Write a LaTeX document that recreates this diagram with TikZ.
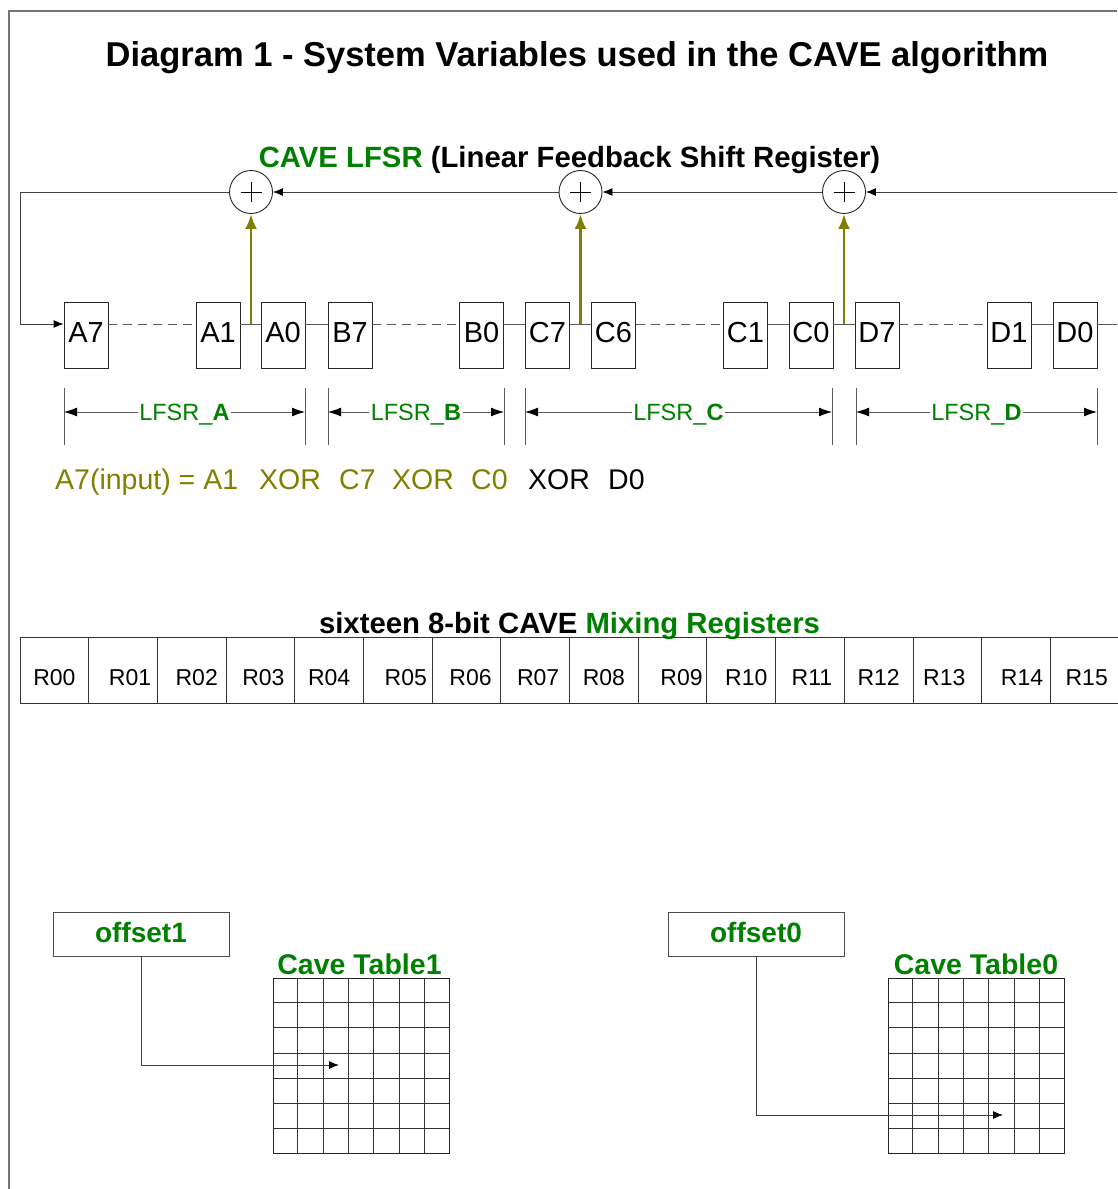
\documentclass[tikz,border=0pt]{standalone}
\usepackage{fontspec}
\setmainfont{Liberation Sans}
\usetikzlibrary{arrows.meta,calc}
\definecolor{cgreen}{RGB}{0,128,0}
\definecolor{colive}{RGB}{128,128,0}
\definecolor{cline}{RGB}{90,90,90}
\begin{document}
\begin{tikzpicture}[x=1pt,y=-1pt,
  frame/.style={draw=black!55, line width=1.4pt},
  bitbox/.style={draw=black!85, line width=0.9pt, minimum width=44pt, minimum height=66pt, inner sep=0pt, text height=21pt, text depth=7pt, font=\fontsize{29}{30}\selectfont},
  xorc/.style={draw=black!85, line width=0.9pt, circle, minimum size=43pt, inner sep=0pt},
  arr/.style={draw=black!75, line width=0.9pt, -{Latex[length=10pt,width=8pt,color=black]}},
  chain/.style={draw=cline, line width=1pt},
  dchain/.style={chain, dash pattern=on 9pt off 6pt},
  tapa/.style={draw=colive, line width=2.8pt, -{Latex[length=15pt,width=12pt]}},
  dimtick/.style={draw=cline, line width=0.9pt},
  dimarr/.style={draw=cline, line width=0.9pt, {Latex[length=13pt,width=9pt,color=black]}-{Latex[length=13pt,width=9pt,color=black]}},
  dimlab/.style={font=\fontsize{23.5}{24}\selectfont, text=cgreen, fill=white, inner sep=1.5pt, text height=16.5pt, text depth=0pt},
  eqtxt/.style={font=\fontsize{28.5}{29}\selectfont, inner sep=0pt, anchor=base west},
  regcell/.style={draw=black!80, line width=0.9pt, minimum width=68.69pt, minimum height=66pt, inner sep=0pt},
  reglab/.style={font=\fontsize{23}{24}\selectfont, inner sep=0pt, anchor=base},
  offbox/.style={draw=black!70, line width=0.9pt, minimum width=176pt, minimum height=44pt, inner sep=0pt, text height=20pt, text depth=4pt, font=\fontsize{28}{29}\selectfont\bfseries, text=cgreen},
  tbl/.style={draw=black!85, line width=0.9pt, minimum width=176pt, minimum height=175pt, inner sep=0pt},
  gridl/.style={draw=black!80, line width=0.8pt},
  tbllab/.style={font=\fontsize{28.5}{29}\selectfont\bfseries, text=cgreen, inner sep=0pt, anchor=base},
  heading/.style={font=\fontsize{29.3}{30}\selectfont\bfseries, inner sep=0pt, anchor=base}
]
\useasboundingbox (0,0) rectangle (1117,1189);
% frame
\coordinate (fTL) at (9,11);
\coordinate (fBL) at (9,1189);
\coordinate (fTR) at (1117,11);
\draw[frame] (fBL) -- (fTL) -- (fTR);

% title
\node[font=\fontsize{34.5}{35}\selectfont\bfseries, inner sep=0pt, anchor=base] (title) at (577,66) {Diagram 1 - System Variables used in the CAVE algorithm};
\node[heading] (lfsrtitle) at (569.5,167) {\textcolor{cgreen}{CAVE LFSR} (Linear Feedback Shift Register)};

% register boxes
\foreach \n/\x in {A7/86, A1/218, A0/283, B7/350, B0/481.5, C7/547.5, C6/613.5, C1/745.5, C0/811, D7/877, D1/1009, D0/1075}
  \node[bitbox] (\n) at (\x,335) {\n};

% xor circles
\node[xorc] (x1) at (251,192) {};
\node[xorc] (x2) at (580.5,192) {};
\node[xorc] (x3) at (844,192) {};
\foreach \c in {x1,x2,x3}{
  \draw[line width=0.8pt] ([xshift=-10.5pt]\c.center) -- ([xshift=10.5pt]\c.center);
  \draw[line width=0.8pt] ([yshift=-10pt]\c.center) -- ([yshift=10pt]\c.center);
}

% chain line
\draw[dchain] ([yshift=11pt]A7.east) -- ([yshift=11pt]A1.west);
\draw[chain] ([yshift=11pt]A1.east) -- ([yshift=11pt]A0.west);
\draw[chain] ([yshift=11pt]A0.east) -- ([yshift=11pt]B7.west);
\draw[dchain] ([yshift=11pt]B7.east) -- ([yshift=11pt]B0.west);
\draw[chain] ([yshift=11pt]B0.east) -- ([yshift=11pt]C7.west);
\draw[chain] ([yshift=11pt]C7.east) -- ([yshift=11pt]C6.west);
\draw[dchain] ([yshift=11pt]C6.east) -- ([yshift=11pt]C1.west);
\draw[chain] ([yshift=11pt]C1.east) -- ([yshift=11pt]C0.west);
\draw[chain] ([yshift=11pt]C0.east) -- ([yshift=11pt]D7.west);
\draw[dchain] ([yshift=11pt]D7.east) -- ([yshift=11pt]D1.west);
\draw[chain] ([yshift=11pt]D1.east) -- ([yshift=11pt]D0.west);
\coordinate (chainR) at (1117,324);
\draw[chain] ([yshift=11pt]D0.east) -- (chainR);

% feedback line
\coordinate (fbR) at (1117,192);
\coordinate (fbL) at (20,192);
\coordinate (fbB) at (20,324);
\draw[arr] (fbR) -- (x3.east);
\draw[arr] (x3.west) -- (x2.east);
\draw[arr] (x2.west) -- (x1.east);
\draw[arr] (x1.west) -- (fbL) -- (fbB) -- ([yshift=11pt]A7.west);

% taps
\coordinate (tA) at (251,324);
\coordinate (tC7) at (580.5,324);
\coordinate (tC0) at (844,324);
\draw[tapa] (tA) -- (x1.south);
\draw[tapa] (tC7) -- (x2.south);
\draw[tapa] (tC0) -- (x3.south);

% dimension lines
\foreach \nm/\xa/\xb/\lab in {dA/64/305/A, dB/328/504/B, dC/525/832/C, dD/856/1097/D}{
  \coordinate (\nm l) at (\xa,412);
  \coordinate (\nm r) at (\xb,412);
  \draw[dimtick] (\xa,388) -- (\xa,445);
  \draw[dimtick] (\xb,388) -- (\xb,445);
  \draw[dimarr] (\nm l) -- node[dimlab] (\nm t) {LFSR\_\textbf{\lab}} (\nm r);
}

% equation
\node[eqtxt, text=colive] (eq1) at (55,489) {A7(input) = A1};
\node[eqtxt, text=colive] (eq2) at (259,489) {XOR};
\node[eqtxt, text=colive] (eq3) at (339,489) {C7};
\node[eqtxt, text=colive] (eq4) at (392,489) {XOR};
\node[eqtxt, text=colive] (eq5) at (471,489) {C0};
\node[eqtxt] (eq6) at (528,489) {XOR};
\node[eqtxt] (eq7) at (608,489) {D0};

% mixing registers
\node[heading] (mixtitle) at (569.5,633) {sixteen 8-bit CAVE \textcolor{cgreen}{Mixing Registers}};
\foreach \lab/\dx [count=\i from 0] in {R00/0, R01/7, R02/5, R03/3, R04/0, R05/8, R06/4, R07/3, R08/0, R09/9, R10/5, R11/2, R12/0, R13/-3, R14/6, R15/2}{
  \node[regcell] (\lab) at ({54.35+68.69*\i},670) {};
  \node[reglab] (t\lab) at ({54.35+68.69*\i+\dx},685) {\lab};
}

% offsets and cave tables
\node[offbox] (off1) at (141,934) {offset1};
\node[offbox] (off0) at (756,934) {offset0};
\node[tbl] (tbl1) at (361,1065.5) {};
\node[tbl] (tbl0) at (976,1065.5) {};
\foreach \t in {tbl1,tbl0}{
  \foreach \k in {1,...,6}{
    \draw[gridl] ($(\t.north west)!\k/7!(\t.north east)$) -- ($(\t.south west)!\k/7!(\t.south east)$);
    \draw[gridl] ($(\t.north west)!\k/7!(\t.south west)$) -- ($(\t.north east)!\k/7!(\t.south east)$);
  }
}
\node[tbllab] (tl1) at (359.5,974) {Cave Table1};
\node[tbllab] (tl0) at (976,974) {Cave Table0};
\coordinate (o1end) at (339,1065);
\coordinate (o0end) at (1003,1115);
\draw[arr] (off1.south) |- (o1end);
\draw[arr] (off0.south) |- (o0end);
\end{tikzpicture}
\end{document}
